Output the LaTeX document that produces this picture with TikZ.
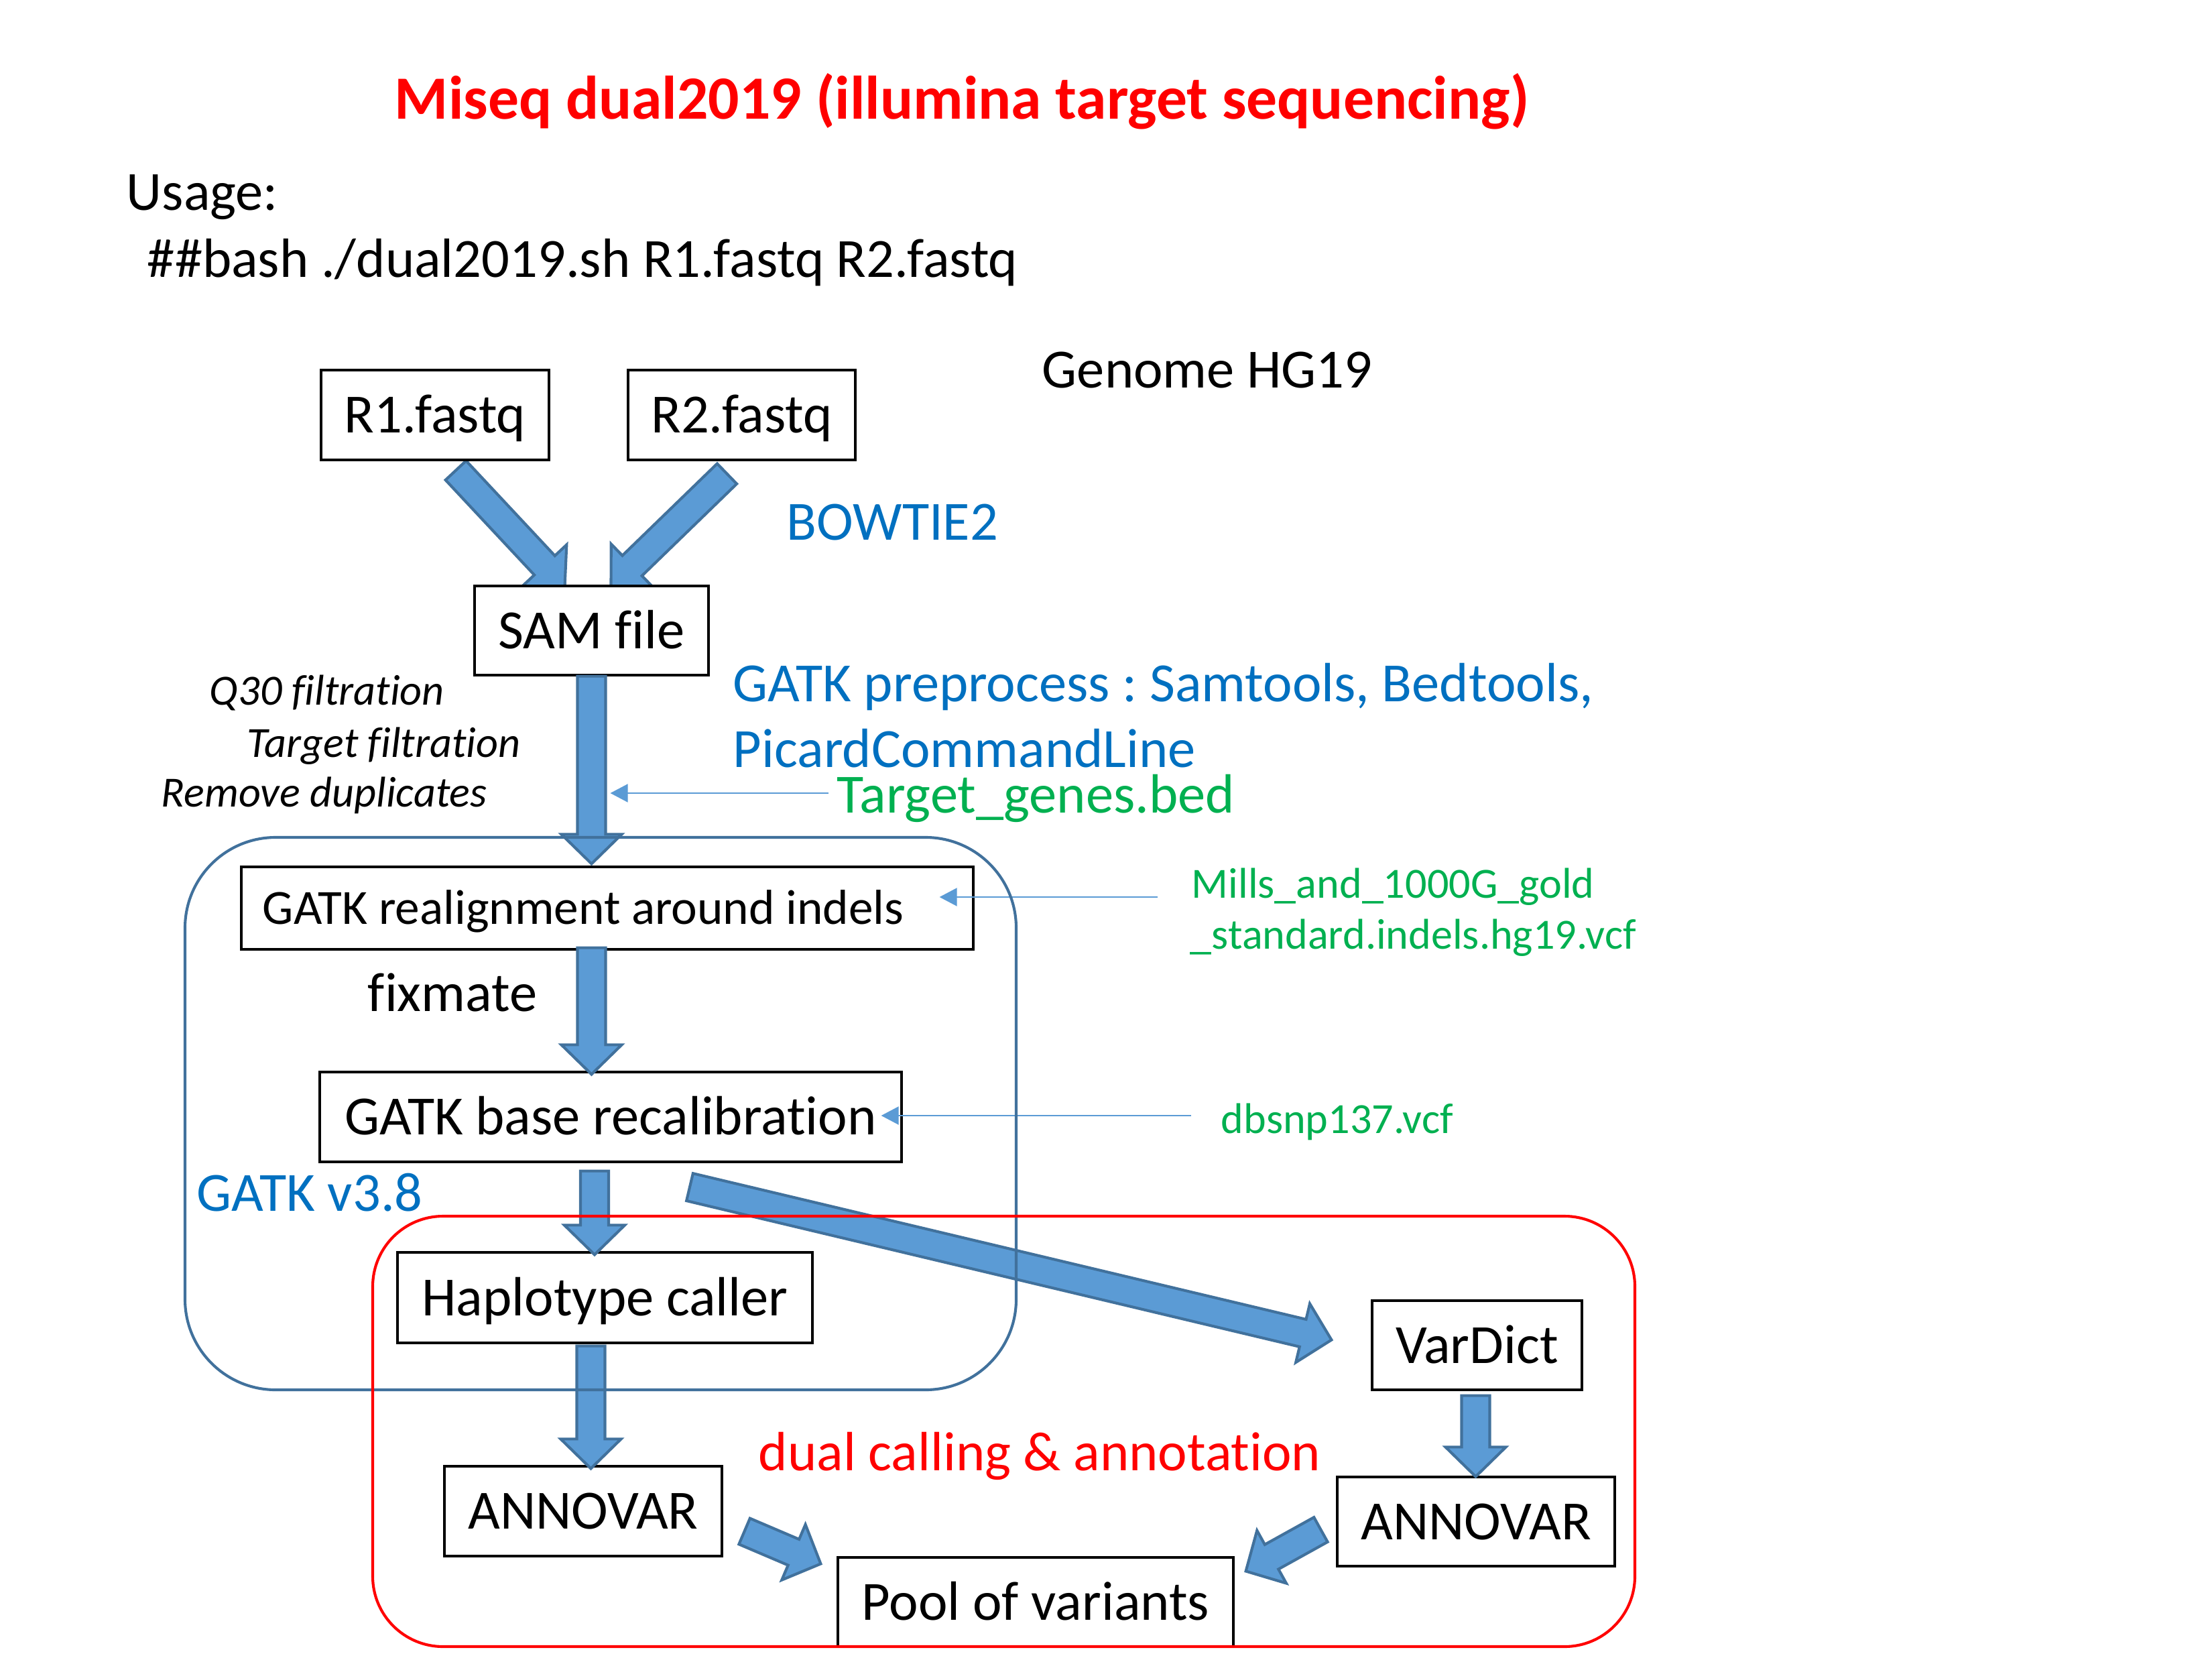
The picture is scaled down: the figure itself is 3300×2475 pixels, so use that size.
\documentclass[tikz,border=0pt]{standalone}
\usepackage{fontspec}
\setmainfont{Carlito}[Ligatures=CommonOff]
\usetikzlibrary{calc,arrows.meta}
\frenchspacing
\definecolor{arrfill}{HTML}{5B9BD5}
\definecolor{arrline}{HTML}{41719C}
\definecolor{txtblue}{HTML}{0070C0}
\definecolor{txtgreen}{HTML}{00B050}
\definecolor{txtred}{HTML}{FF0000}
\pgfdeclarelayer{bg}
\pgfsetlayers{bg,main}
\newcommand\blockarrow[2]{%
  \coordinate (#1-hb) at ($(#2)!9.6pt!(#1)$);
  \path[blockarr] ($(#1)!4.58pt!90:(#2)$) -- ($(#1-hb)!4.58pt!90:(#2)$) -- ($(#1-hb)!9.82pt!90:(#2)$) -- (#2)
     -- ($(#1-hb)!9.82pt!-90:(#2)$) -- ($(#1-hb)!4.58pt!-90:(#2)$) -- ($(#1)!4.58pt!-90:(#2)$) -- cycle;
}
\tikzset{
  box/.style={draw=black, line width=0.7pt, fill=white, inner sep=0pt,
    font=\fontsize{18}{21.6}\selectfont, text height=11.6pt, text depth=0pt},
  blockarr/.style={fill=arrfill, draw=arrline, line width=0.9pt, line join=miter},
  thinarr/.style={draw=arrfill, line width=0.45pt, -{Triangle[length=5.7pt,width=5.9pt]}},
  lbl/.style={inner sep=0pt, anchor=base west, font=\fontsize{18}{21.6}\selectfont},
  small/.style={inner sep=0pt, anchor=base west, font=\fontsize{14}{16.8}\selectfont},
  smallit/.style={inner sep=0pt, anchor=base west, font=\fontsize{14}{16.8}\selectfont\itshape},
  container/.style={line width=0.9pt}
}
\begin{document}
\begin{tikzpicture}[x=0.21818pt, y=-0.21818pt]
\useasboundingbox (0,0) rectangle (3300,2475);

% title and usage
\node[inner sep=0pt, anchor=base, text=txtred, font=\fontsize{20}{24}\selectfont\bfseries] (title) at (1435,178) {Miseq dual2019 (illumina target sequencing)};
\node[lbl] (usage) at (188,313) {Usage:};
\node[lbl] (bash) at (219,413) {\#\#bash ./dual2019.sh R1.fastq R2.fastq};
\node[lbl] (genome) at (1554,578) {Genome HG19};

% boxes
\node[box, minimum width=74.18pt, minimum height=29.24pt] (R1) at (649,619) {R1.fastq};
\node[box, minimum width=73.96pt, minimum height=29.24pt] (R2) at (1106.5,619) {R2.fastq};
\node[box, minimum width=76.15pt, minimum height=29.02pt] (SAM) at (882.5,940.5) {SAM file};
\node[box, minimum width=238.25pt, minimum height=26.84pt, font=\fontsize{16}{19.2}\selectfont, text height=10.3pt] (realign) at (906,1354.5) {GATK realignment around indels\hspace*{15.7pt}};
\node[box, minimum width=189.38pt, minimum height=29.24pt] (recal) at (911,1666) {GATK base recalibration};
\node[box, minimum width=135.05pt, minimum height=29.45pt] (haplo) at (902.5,1935.5) {Haplotype caller};
\node[box, minimum width=68.29pt, minimum height=29.02pt] (vardict) at (2203.5,2006.5) {VarDict};
\node[box, minimum width=90.33pt, minimum height=29.02pt] (annR) at (2202,2269.5) {ANNOVAR};
\node[box, minimum width=90.33pt, minimum height=29.24pt] (annL) at (870,2254) {ANNOVAR};
\node[box, minimum width=128.73pt, minimum height=29.02pt] (pool) at (1545,2389.5) {Pool of variants};

% labels
\node[lbl, text=txtblue] (bowtie) at (1173,805) {BOWTIE2};
\node[lbl, text=txtblue] (prep1) at (1093,1046) {GATK preprocess : Samtools, Bedtools,};
\node[lbl, text=txtblue] (prep2) at (1093,1144) {PicardCommandLine};
\node[lbl, text=txtgreen] (target) at (1248,1212) {Target\_genes.bed};
\node[smallit] (q30) at (312,1051) {Q30 filtration};
\node[smallit] (tfilt) at (368,1129) {Target filtration};
\node[smallit] (remdup) at (240,1203) {Remove duplicates};
\node[lbl] (fixmate) at (548,1508) {fixmate};
\node[small, text=txtgreen] (mills1) at (1777,1339) {Mills\_and\_1000G\_gold};
\node[small, text=txtgreen] (mills2) at (1775,1415) {\_standard.indels.hg19.vcf};
\node[small, text=txtgreen] (dbsnp) at (1821,1690) {dbsnp137.vcf};
\node[lbl, text=txtblue] (gatkv) at (293,1806) {GATK v3.8};
\node[lbl, text=txtred] (dual) at (1131,2193) {dual calling \& annotation};

% arrow end coordinates
\coordinate (a1t) at ($(R1.south)+(31,14)$);
\coordinate (a1h) at ($(SAM.north)+(-40,3)$);
\coordinate (a2t) at ($(R2.south)+(-22,19)$);
\coordinate (a2h) at ($(SAM.north)+(29,2)$);
\coordinate (a3t) at (SAM.south);
\coordinate (a3h) at ($(SAM.south |- realign.north)+(0,-3)$);
\coordinate (a4t) at ($(SAM.south |- realign.south)+(0,-4)$);
\coordinate (a4h) at ($(SAM.south |- recal.north)+(0,5)$);
\coordinate (a5t) at ($(recal.south)+(-24,12)$);
\coordinate (a5h) at ($(a5t |- haplo.north)+(0,5)$);
\coordinate (a6t) at ($(haplo.south)+(-21,3)$);
\coordinate (a6h) at ($(a6t |- annL.north)+(0,5)$);
\coordinate (a7t) at ($(recal.south)+(118,36)$);
\coordinate (a7h) at ($(vardict.west)+(-59,-8)$);
\coordinate (a8t) at ($(vardict.south)+(-2,7)$);
\coordinate (a8h) at ($(a8t |- annR.north)+(0,1)$);
\coordinate (a9t) at ($(annL.east)+(32,30)$);
\coordinate (a9h) at ($(pool.west)+(-24,-57)$);
\coordinate (a10t) at ($(annR.west)+(-23,12)$);
\coordinate (a10h) at ($(pool.east)+(17,-46)$);

\begin{pgfonlayer}{bg}
\blockarrow{a1t}{a1h}
\blockarrow{a2t}{a2h}
\end{pgfonlayer}
\blockarrow{a3t}{a3h}
\blockarrow{a4t}{a4h}
\blockarrow{a5t}{a5h}
\blockarrow{a6t}{a6h}
\blockarrow{a7t}{a7h}
\blockarrow{a8t}{a8h}
\blockarrow{a9t}{a9h}
\blockarrow{a10t}{a10h}

% thin arrows
\coordinate (t1s) at (1236,1183);
\coordinate (t1e) at ($(SAM.south |- t1s)+(28,0)$);
\coordinate (t2s) at (1727,1338);
\coordinate (t2e) at ($(realign.east |- t2s)+(-52,0)$);
\coordinate (t3s) at (1777,1664);
\coordinate (t3e) at ($(recal.east |- t3s)+(-32,0)$);
\draw[thinarr] (t1s) -- (t1e);
\draw[thinarr] (t2s) -- (t2e);
\draw[thinarr] (t3s) -- (t3e);

% containers
\draw[container, draw=arrline, rounded corners=29.5pt] (276,1249) rectangle (1516,2073);
\draw[container, draw=txtred, rounded corners=22.9pt] (556,1814) rectangle (2439,2456);
\end{tikzpicture}
\end{document}
